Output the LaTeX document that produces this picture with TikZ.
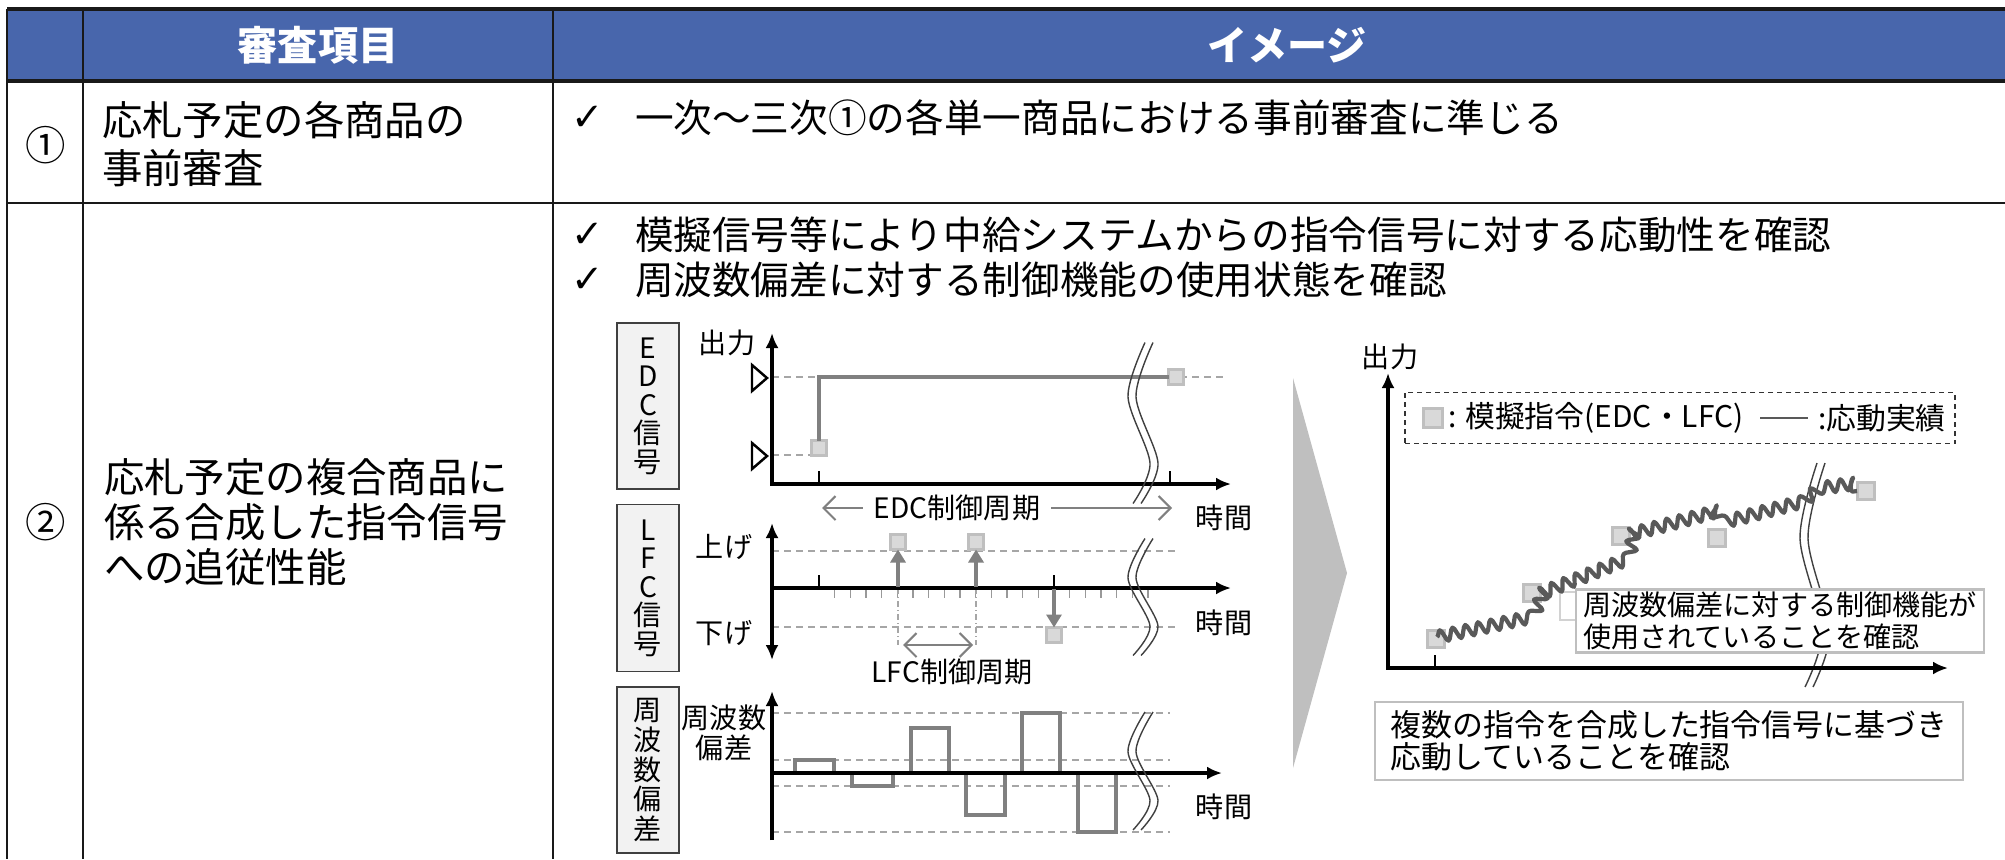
\documentclass[tikz,border=0pt]{standalone}
\usepackage{fontspec}
\setmainfont{Noto Sans CJK JP}
\newfontfamily\symfont{DejaVu Sans}
\usetikzlibrary{arrows.meta,decorations.pathmorphing}

\definecolor{hdrblue}{RGB}{72,102,172}
\definecolor{sgray}{RGB}{128,128,128}
\definecolor{sqfill}{RGB}{217,217,217}
\definecolor{sqline}{RGB}{191,191,191}
\definecolor{wavegray}{RGB}{89,89,89}
\definecolor{boxfill}{RGB}{242,242,242}
\definecolor{wedgegray}{RGB}{191,191,191}

\newcommand{\hdrtxt}{\fontsize{11.4pt}{13pt}\selectfont}
\newcommand{\itemtxt}{\fontsize{11.5pt}{13.7pt}\selectfont}
\newcommand{\itemtxtb}{\fontsize{11.5pt}{12.8pt}\selectfont}
\newcommand{\imgtxt}{\fontsize{11pt}{12.8pt}\selectfont}
\newcommand{\lbltxt}{\fontsize{8pt}{8.1pt}\selectfont}
\newcommand{\frqtxt}{\fontsize{8pt}{8.5pt}\selectfont}
\newcommand{\legtxt}{\fontsize{8.5pt}{9pt}\selectfont}
\newcommand{\notetxt}{\fontsize{8pt}{9.1pt}\selectfont}
\newcommand{\bignote}{\fontsize{8.8pt}{9.1pt}\selectfont}

\begin{document}
\begin{tikzpicture}
  [x=0.1mm,y=-0.1mm,every node/.style={inner sep=0pt,outer sep=0pt}]
  \tikzstyle{grid} = [line width=0.8pt,black!90]
  \tikzstyle{hdr} = [text=white,font=\bfseries\hdrtxt]
  \tikzstyle{sigbox} = [draw=black!75,fill=boxfill,line width=0.5pt,minimum width=6.2mm,align=center,font=\lbltxt]
  \tikzstyle{lbl} = [font=\lbltxt]
  \tikzstyle{axis} = [line width=1.1pt,>={Latex[length=1.5mm,width=1.3mm]}]
  \tikzstyle{guide} = [draw=black!35,line width=0.35pt,dash pattern=on 0.7mm off 0.5mm]
  \tikzstyle{sig} = [draw=sgray,line width=1.4pt]
  \tikzstyle{fsig} = [draw=sgray,line width=1.1pt]
  \tikzstyle{cmd} = [draw=sqline,fill=sqfill,line width=0.6pt,minimum size=1.5mm]
  \tikzstyle{tick} = [line width=0.6pt]
  \tikzstyle{minor} = [draw=black!40,line width=0.35pt]
  \tikzstyle{period} = [draw=sgray,line width=0.6pt,>={Straight Barb[length=1.2mm,width=2.4mm]}]
  \tikzstyle{lfcarr} = [draw=sgray,line width=1.1pt,-{Triangle[length=1.3mm,width=1.5mm]}]
  \tikzstyle{brk} = [draw=black!75,line width=0.4pt]
  \tikzstyle{resp} = [draw=wavegray,line width=1.2pt,line join=round,decorate,decoration={snake,segment length=1.3mm,amplitude=0.6mm}]
  \tikzstyle{note} = [draw=sqline,fill=white,line width=0.6pt,align=left]

  \useasboundingbox (0,0) rectangle (2005,859);

  % table frame
  \fill[hdrblue] (7,9) rectangle (2005,81);
  \draw[grid,line width=1pt] (7,9) -- (2005,9);
  \draw[grid,line width=1pt] (7,81) -- (2005,81);
  \draw[grid] (7,203) -- (2005,203);
  \foreach \cx in {7,83,553}
    \draw[grid] (\cx,9) -- (\cx,859);

  % header
  \node[hdr] (hitem) at (318,45) {審査項目};
  \node[hdr] (himg) at (1287,45) {イメージ};

  % row 1
  \node[font=\itemtxt] (no1) at (46,145) {①};
  \node[font=\itemtxt,anchor=west,align=left] (item1) at (102,144) {応札予定の各商品の\\事前審査};
  \node[font=\imgtxt] (chk1) at (588,118) {\symfont ✓};
  \node[font=\imgtxt,anchor=west] (img1) at (635,118) {一次～三次①の各単一商品における事前審査に準じる};

  % row 2
  \node[font=\itemtxt] (no2) at (46,522) {②};
  \node[font=\itemtxtb,anchor=west,align=left] (item2) at (104,522) {応札予定の複合商品に\\係る合成した指令信号\\への追従性能};
  \node[font=\imgtxt] (chk2) at (588,235) {\symfont ✓};
  \node[font=\imgtxt,anchor=west] (img2) at (635,235) {模擬信号等により中給システムからの指令信号に対する応動性を確認};
  \node[font=\imgtxt] (chk3) at (588,280) {\symfont ✓};
  \node[font=\imgtxt,anchor=west] (img3) at (635,280) {周波数偏差に対する制御機能の使用状態を確認};

  % EDC signal
  \node[sigbox,minimum height=16.6mm] (edcbox) at (648,406) {E\\D\\C\\信\\号};
  \node[lbl] (edcout) at (727,343) {出力};
  \coordinate (eY) at (772,333);
  \coordinate (eO) at (772,484);
  \coordinate (eX) at (1231,484);
  \draw[guide] (772,377) -- (1224,377);
  \draw[guide] (772,455) -- (813,455);
  \node[cmd] (e1) at (819,448) {};
  \node[cmd] (e2) at (1176,377) {};
  \draw[sig] (e1.north) |- (e2.west);
  \foreach \ty in {378,456}
    \draw[line width=0.7pt] (752,\ty-13) -- (767,\ty) -- (752,\ty+13) -- cycle;
  \foreach \tx in {819,1170}
    \draw[tick] (\tx,471) -- (\tx,484);
  \draw[axis,<->] (eY) -- (eO) -- (eX);
  \node[lbl,inner xsep=1.1mm] (edcper) at (957,508) {EDC制御周期};
  \coordinate (edcL) at (822,508);
  \coordinate (edcR) at (1172,508);
  \draw[period,->] (edcper) -- (edcL);
  \draw[period,->] (edcper) -- (edcR);
  \node[lbl] (edctime) at (1224,518) {時間};

  % LFC signal
  \node[sigbox,minimum height=16.7mm] (lfcbox) at (648,588) {L\\F\\C\\信\\号};
  \node[lbl] (lfcup) at (724,547) {上げ};
  \node[lbl] (lfcdn) at (724,633) {下げ};
  \coordinate (lT) at (772,523);
  \coordinate (lB) at (772,660);
  \coordinate (lO) at (772,588);
  \coordinate (lX) at (1231,588);
  \foreach \gy in {551,627}
    \draw[guide] (772,\gy) -- (1175,\gy);
  \foreach \k in {1,...,21}
    \draw[minor] ({819+15.67*\k},589) -- ({819+15.67*\k},598);
  \foreach \tx in {898,976}
    \draw[guide,dash pattern=on 0.6mm off 0.3mm on 0.1mm off 0.3mm] (\tx,588) -- (\tx,645);
  \foreach \tx in {819,1054}
    \draw[tick] (\tx,575) -- (\tx,588);
  \draw[axis,<->] (lT) -- (lB);
  \draw[axis,->] (lO) -- (lX);
  \node[cmd] (l1) at (898,542) {};
  \node[cmd] (l2) at (976,542) {};
  \node[cmd] (l3) at (1054,635) {};
  \foreach \lx/\ln in {898/l1,976/l2}
    \draw[lfcarr] (\lx,587) -- (\ln.south);
  \draw[lfcarr] (1054,589) -- (l3.north);
  \coordinate (lfcL) at (903,645);
  \coordinate (lfcR) at (973,645);
  \draw[period,<->] (lfcL) -- (lfcR);
  \node[lbl] (lfcper) at (952,672) {LFC制御周期};
  \node[lbl] (lfctime) at (1224,623) {時間};

  % frequency deviation
  \node[sigbox,minimum height=16.6mm,font=\frqtxt] (frqbox) at (648,770) {周\\波\\数\\偏\\差};
  \node[lbl,align=center,font=\frqtxt] (frqlbl) at (724,733) {周波数\\偏差};
  \coordinate (fB) at (772,840);
  \coordinate (fT) at (772,691);
  \coordinate (fO) at (772,773);
  \coordinate (fX) at (1222,773);
  \foreach \gy in {713,760,786,832}
    \draw[guide] (772,\gy) -- (1170,\gy);
  \foreach \xa/\xb/\lv in {795/834/760,852/893/786,911/949/728,966/1005/815,1022/1060/713,1078/1116/832}
    \draw[fsig] (\xa,773) -- (\xa,\lv) -- (\xb,\lv) -- (\xb,773);
  \draw[axis,->] (fB) -- (fT);
  \draw[axis,->] (fO) -- (fX);
  \node[lbl] (frqtime) at (1224,807) {時間};

  % breaks
  \foreach \bx/\by/\bh in {1140/423/161,1140/597/117,1140/771/118,1812/575/224}
  {
    \begin{scope}[shift={(\bx,\by)},yscale=\bh/160]
      \draw[brk] plot[smooth] coordinates {(5,-80) (-12,-26) (10,40) (-7,80)};
      \draw[brk] plot[smooth] coordinates {(13,-80) (-4,-26) (18,40) (1,80)};
    \end{scope}
  }

  % wedge
  \fill[wedgegray] (1293,378) -- (1347,573) -- (1293,768) -- cycle;

  % composite response
  \node[lbl] (resout) at (1390,357) {出力};
  \coordinate (rY) at (1388,373);
  \coordinate (rO) at (1388,668);
  \coordinate (rX) at (1948,668);
  \draw[tick] (1435,655) -- (1435,668);
  \draw[axis,<->] (rY) -- (rO) -- (rX);
  \node[draw=black!80,dash pattern=on 0.5mm off 0.4mm,line width=0.5pt,minimum width=55mm,minimum height=5.1mm] (legend) at (1680,418) {};
  \node[cmd,minimum size=1.9mm] (legsq) at (1433,418) {};
  \node[anchor=west,font=\legtxt] (legcmd) at (1448,418) {: 模擬指令(EDC・LFC)};
  \coordinate (legA) at (1760,418);
  \coordinate (legB) at (1808,418);
  \draw[draw=wavegray,line width=0.6pt] (legA) -- (legB);
  \node[anchor=west,font=\legtxt] (legres) at (1818,418) {:応動実績};
  \draw[draw=sqline!70,line width=0.4pt] (1560,592) rectangle (1578,620);
  \foreach \n/\sx/\sy in {1/1436/639,2/1532/593,3/1621/536,4/1717/538,5/1866/491}
    \node[cmd,minimum size=1.7mm] (r\n) at (\sx,\sy) {};
  \draw[resp] (1437,637) -- (1527,618) -- (1537,595) -- (1625,560) -- (1630,535) -- (1713,513) -- (1723,527) -- (1800,507) -- (1813,497) -- (1857,491);
  \node[note,font=\notetxt,inner xsep=0.7mm,inner ysep=0.15mm,minimum width=40.4mm,minimum height=6.3mm] (note1) at (1780,621) {周波数偏差に対する制御機能が\\使用されていることを確認};
  \node[note,font=\bignote,inner xsep=1.6mm,inner ysep=0.3mm,minimum width=56.4mm,minimum height=7.8mm] (note2) at (1669,741) {複数の指令を合成した指令信号に基づき\\応動していることを確認};
\end{tikzpicture}
\end{document}
